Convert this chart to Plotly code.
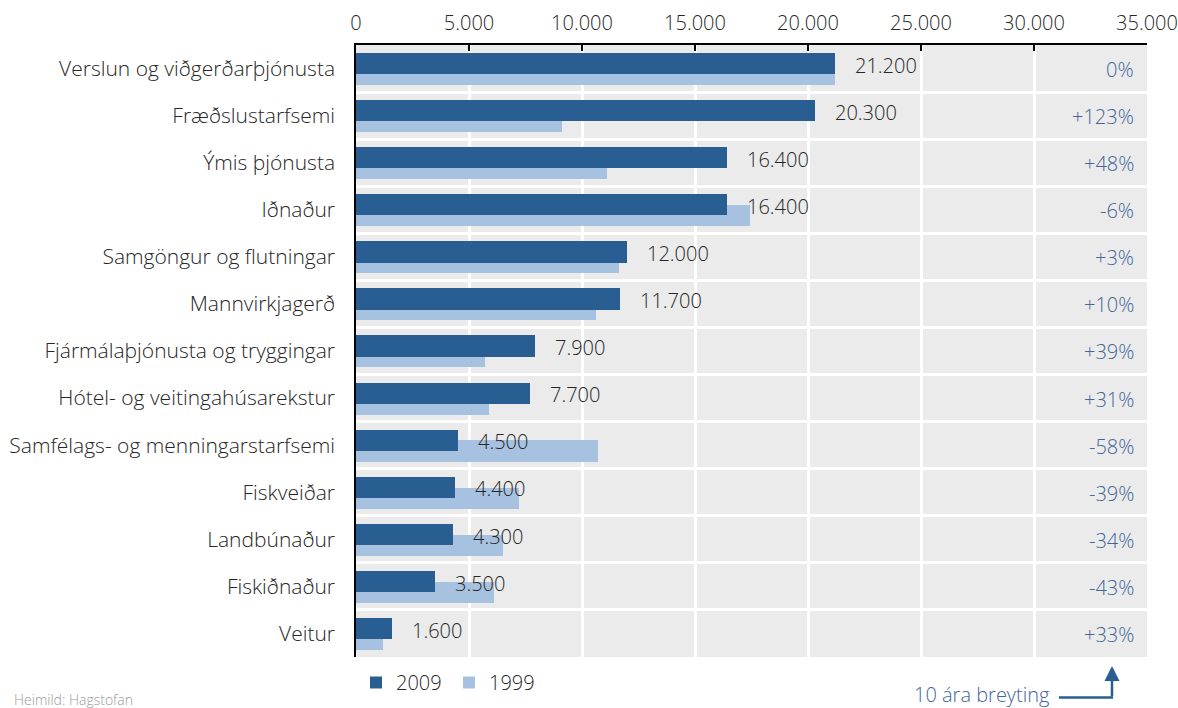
import plotly.graph_objects as go

categories = [
    "Verslun og viðgerðarþjónusta",
    "Fræðslustarfsemi",
    "Ýmis þjónusta",
    "Iðnaður",
    "Samgöngur og flutningar",
    "Mannvirkjagerð",
    "Fjármálaþjónusta og tryggingar",
    "Hótel- og veitingahúsarekstur",
    "Samfélags- og menningarstarfsemi",
    "Fiskveiðar",
    "Landbúnaður",
    "Fiskiðnaður",
    "Veitur",
]
values_2009 = [21200, 20300, 16400, 16400, 12000, 11700, 7900, 7700, 4500, 4400, 4300, 3500, 1600]
values_1999 = [21200, 9100, 11100, 17450, 11650, 10600, 5700, 5900, 10700, 7200, 6500, 6100, 1200]
change_labels = ["0%", "+123%", "+48%", "-6%", "+3%", "+10%", "+39%", "+31%", "-58%", "-39%", "-34%", "-43%", "+33%"]
x_ticks = [0, 5000, 10000, 15000, 20000, 25000, 30000, 35000]

DARK = "#285E91"
LIGHT = "#A7C2E0"
BG = "#EBEBEB"
TXT = "#262626"
BLUE_TXT = "#42669A"
FONT = "Open Sans"
FS = 20
WT = 300

W, H = 1178, 708
L, R, T, B = 356, 1147, 45, 657

def px(xs):
    return (xs - L) / (R - L)

def py(ys):
    return (B - ys) / (B - T)

pos = list(range(len(categories)))

def fmt(v):
    return f"{v:,}".replace(",", ".")

fig = go.Figure()
fig.add_trace(go.Bar(
    y=pos, x=values_1999, orientation="h", name="1999",
    marker=dict(color=LIGHT, line=dict(width=0)),
    width=0.45, offset=-0.10, legendrank=2, hoverinfo="x+name",
))
fig.add_trace(go.Bar(
    y=pos, x=values_2009, orientation="h", name="2009",
    marker=dict(color=DARK, line=dict(width=0)),
    width=0.45, offset=-0.33, legendrank=1, hoverinfo="x+name",
))

for i, v in enumerate(values_2009):
    fig.add_annotation(x=v, y=i - 0.07, xref="x", yref="y", text=fmt(v),
                       showarrow=False, xanchor="left", yanchor="middle", xshift=18,
                       font=dict(family=FONT, size=FS, color=TXT, weight=WT))

for i, lab in enumerate(change_labels):
    fig.add_annotation(x=x_ticks[-1], y=i + 0.02, xref="x", yref="y", text=lab,
                       showarrow=False, xanchor="right", yanchor="middle", xshift=-11,
                       font=dict(family=FONT, size=FS, color=BLUE_TXT, weight=WT))

# note with bent arrow
fig.add_annotation(x=px(1052), y=py(694.5), xref="paper", yref="paper", text="10 ára breyting",
                   showarrow=False, xanchor="right", yanchor="middle",
                   font=dict(family=FONT, size=FS, color=BLUE_TXT, weight=WT))
fig.add_shape(type="line", xref="paper", yref="paper", x0=px(1059), x1=px(1113),
              y0=py(697.5), y1=py(697.5), line=dict(color=DARK, width=2.5))
fig.add_annotation(x=px(1112), y=py(666), xref="paper", yref="paper",
                   axref="pixel", ayref="pixel", ax=0, ay=32, text="", showarrow=True,
                   arrowhead=2, arrowsize=1.2, arrowwidth=2.5, arrowcolor=DARK)

fig.add_annotation(text="Heimild: Hagstofan", xref="paper", yref="paper",
                   x=px(12), y=py(699), xanchor="left", yanchor="middle", showarrow=False,
                   font=dict(family=FONT, size=14, color="#9A9A9A", weight=WT))

fig.update_layout(
    width=W, height=H,
    margin=dict(l=L, r=W - R, t=T, b=H - B, autoexpand=False),
    plot_bgcolor=BG, paper_bgcolor="white",
    barmode="overlay", bargap=0,
    separators=",.",
    font=dict(family=FONT, size=FS, color=TXT, weight=WT),
    showlegend=True,
    legend=dict(orientation="h", x=px(356), y=py(663), xanchor="left", yanchor="top",
                font=dict(family=FONT, size=FS, color=TXT, weight=WT), traceorder="normal",
                itemwidth=30, entrywidth=48, bgcolor="rgba(0,0,0,0)"),
    xaxis=dict(side="top", range=[0, 35000], tickvals=x_ticks, tickformat=",d",
               automargin=False,
               showgrid=True, gridcolor="white", gridwidth=3, zeroline=False,
               showline=True, linecolor="black", linewidth=1.5,
               ticks="inside", ticklen=6, tickwidth=1.5, tickcolor="black",
               ticklabelstandoff=5, tickfont=dict(family=FONT, size=FS, color=TXT, weight=WT)),
    yaxis=dict(range=[len(categories) - 0.5, -0.5], tickvals=pos, ticktext=categories,
               automargin=False,
               showgrid=False, zeroline=False, showline=True, linecolor="black", linewidth=1.5,
               ticks="", ticklabelstandoff=15, tickfont=dict(family=FONT, size=21, color=TXT, weight=WT),
               minor=dict(tick0=0.5, dtick=1, showgrid=True, gridcolor="white", gridwidth=3, ticks="")),
)

fig.write_html("out.html", config={"displayModeBar": False},
               post_script="document.body.style.margin='0px';")
